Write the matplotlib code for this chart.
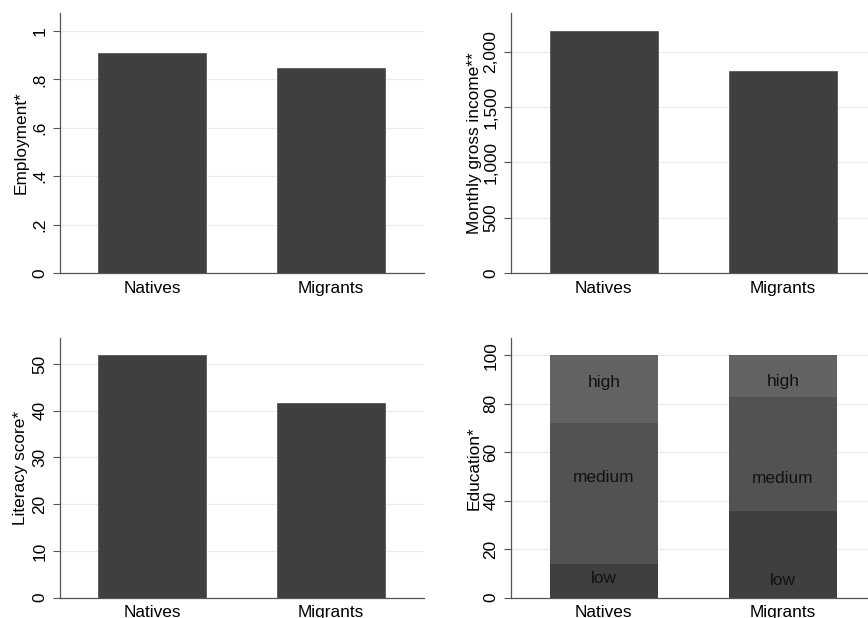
import numpy as np
import matplotlib
matplotlib.use("Agg")
import matplotlib.pyplot as plt
from matplotlib.ticker import FuncFormatter

plt.rcParams['font.family'] = ['Liberation Sans', 'DejaVu Sans']

groups = ['Natives', 'Migrants']

employment = [0.910, 0.846]
income = [2190, 1826]
literacy = [51.9, 41.7]

# education shares (percent), stacked low / medium / high
edu_levels = ['low', 'medium', 'high']
edu_low = [13.9, 35.8]
edu_medium = [58.3, 47.1]
edu_high = [27.8, 17.1]
# where the segment labels sit
edu_label_y = {'low': [7.8, 6.9], 'medium': [49.7, 49.3], 'high': [88.6, 89.3]}

bar_col = '#3f3f3f'
edu_cols = ['#3f3f3f', '#525252', '#636363']
W, H = 868, 618
FS = 12.4

fig = plt.figure(figsize=(W / 100, H / 100), dpi=100)


def make_ax(left, right, top, bottom):
    return fig.add_axes([left / W, (H - bottom) / H, (right - left) / W, (bottom - top) / H])


def style(ax, ylim, ticks, xlim, ylabel, labelpad):
    ax.set_ylim(0, ylim)
    ax.set_xlim(*xlim)
    ax.set_yticks(ticks)
    ax.set_xticks(range(len(groups)))
    ax.set_xticklabels(groups)
    for s in ['top', 'right']:
        ax.spines[s].set_visible(False)
    for s in ['left', 'bottom']:
        ax.spines[s].set_color('#555555')
        ax.spines[s].set_linewidth(0.9)
    ax.tick_params(axis='x', length=0, pad=5.5, labelsize=FS)
    ax.tick_params(axis='y', length=5, width=0.8, color='#555555', pad=4,
                   labelsize=FS, labelrotation=90)
    for lab in ax.get_yticklabels():
        lab.set_va('center')
    ax.yaxis.grid(True, color='#ebebeb', linewidth=0.8)
    ax.set_axisbelow(True)
    ax.set_ylabel(ylabel, fontsize=FS, labelpad=labelpad)


x = np.arange(len(groups))
bw = 0.603

# top-left: employment
ax1 = make_ax(60, 424, 13, 273)
ax1.bar(x, employment, width=bw, color=bar_col, edgecolor='#4a4a4a', linewidth=0.5)
style(ax1, 1.074, [0, 0.2, 0.4, 0.6, 0.8, 1.0], (-0.514, 1.52), 'Employment*', 3)
ax1.yaxis.set_major_formatter(FuncFormatter(
    lambda v, p: '0' if v == 0 else ('1' if abs(v - 1) < 1e-9 else ('%.1f' % v).lstrip('0'))))

# top-right: income
ax2 = make_ax(510.7, 868, 13, 273)
ax2.bar(x, income, width=bw, color=bar_col, edgecolor='#4a4a4a', linewidth=0.5)
style(ax2, 2350, [0, 500, 1000, 1500, 2000], (-0.520, 1.475), 'Monthly gross income**', 1.0)
ax2.yaxis.set_major_formatter(FuncFormatter(lambda v, p: '{:,.0f}'.format(v)))

# bottom-left: literacy
ax3 = make_ax(60, 424, 338.3, 597.7)
ax3.bar(x, literacy, width=bw, color=bar_col, edgecolor='#4a4a4a', linewidth=0.5)
style(ax3, 55.5, [0, 10, 20, 30, 40, 50], (-0.514, 1.52), 'Literacy score*', 3)

# bottom-right: education stacked
ax4 = make_ax(510.7, 868, 338.3, 597.7)
bottom = np.zeros(len(groups))
for lev, vals, col in zip(edu_levels, [edu_low, edu_medium, edu_high], edu_cols):
    ax4.bar(x, vals, width=bw, bottom=bottom, color=col, linewidth=0)
    for i in range(len(groups)):
        ax4.text(x[i], edu_label_y[lev][i], lev, ha='center', va='center',
                 fontsize=FS, color='#111111')
    bottom += np.array(vals)
style(ax4, 107, [0, 20, 40, 60, 80, 100], (-0.520, 1.475), 'Education*', 1.0)

fig.savefig('out.png', dpi=100)
